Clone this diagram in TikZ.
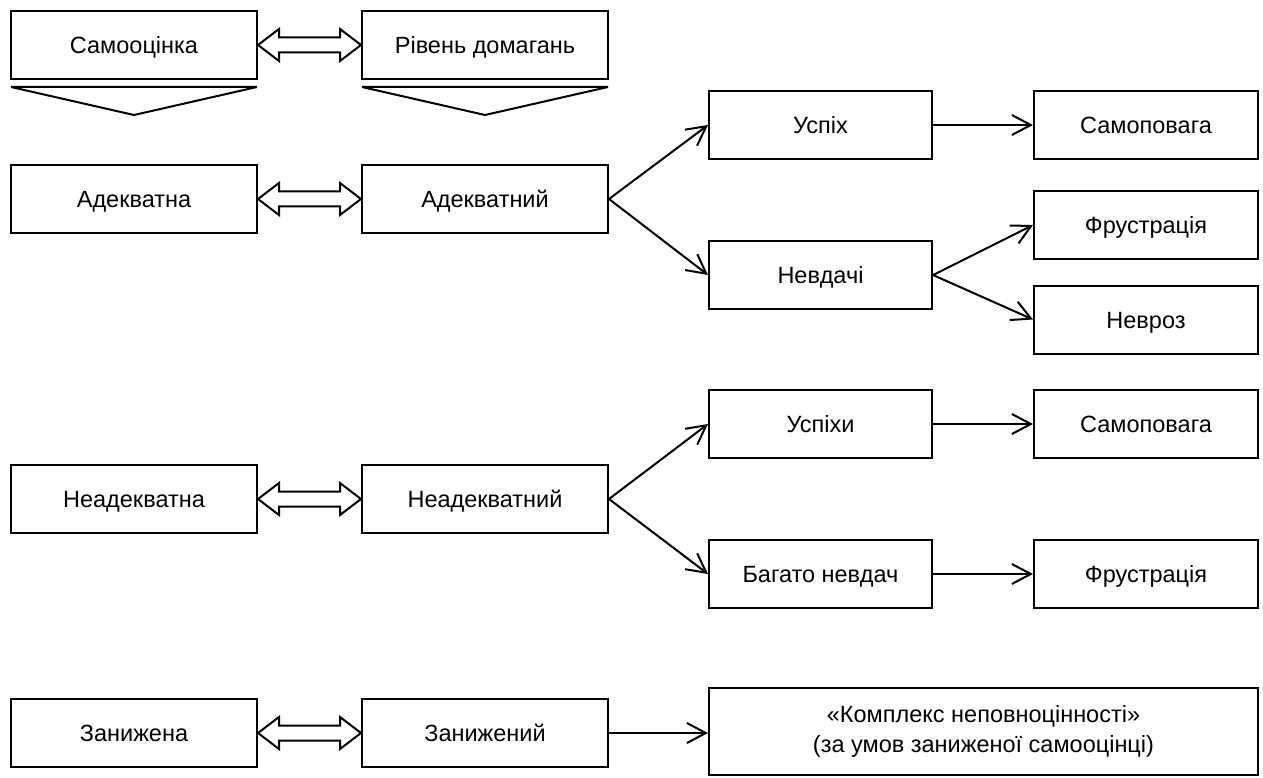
\documentclass[tikz,border=0pt]{standalone}
\usepackage{fontspec}
\setmainfont{Liberation Sans}
\usetikzlibrary{arrows.meta,calc}
\tikzset{
  box/.style={draw, line width=2pt, minimum height=68pt, inner sep=2pt, align=center,
              font=\fontsize{23.5}{30}\selectfont},
  onel/.style={box, text height=17pt, text depth=0pt},
  wbox/.style={onel, minimum width=246pt},
  mbox/.style={onel, minimum width=223pt},
  conn/.style={line width=2pt, -{Straight Barb[length=19pt,width=20pt,line width=2pt]}},
  dblar/.style={draw, line width=2pt, fill=white, line join=miter},
  tri/.style={draw, line width=2pt, line join=bevel},
}
\newcommand\dblarrowpath[2]{%
  \draw[dblar] (#1.east) -- ++(21,-16) -- ++(0,8.5) -- ++(61,0) -- ++(0,-8.5)
    -- (#2.west) -- ++(-21,16) -- ++(0,-8.5) -- ++(-61,0) -- ++(0,8.5) -- cycle;}
\newcommand\downtri[1]{%
  \draw[tri] ($(#1.south west)+(1,7)$) -- ($(#1.south east)+(-1,7)$)
    -- ($(#1.south)+(0,35)$) -- cycle;}
\begin{document}
\begin{tikzpicture}[x=1pt,y=-1pt]
\useasboundingbox (0,0) rectangle (1263,778);
% column 1 and 2
\node[wbox] (sam)  at (134,45)  {Самооцінка};
\node[wbox] (riv)  at (485,45)  {Рівень домагань};
\node[wbox] (ad1)  at (134,199) {Адекватна};
\node[wbox] (ad2)  at (485,199) {Адекватний};
\node[wbox] (nad1) at (134,499) {Неадекватна};
\node[wbox] (nad2) at (485,499) {Неадекватний};
\node[wbox] (zan1) at (134,733) {Занижена};
\node[wbox] (zan2) at (485,733) {Занижений};
% column 3
\node[mbox] (usp)  at (820.5,125) {Успіх};
\node[mbox] (nev)  at (820.5,275) {Невдачі};
\node[mbox] (usp2) at (820.5,424) {Успіхи};
\node[mbox] (bag)  at (820.5,574) {Багато невдач};
% column 4
\node[mbox, minimum width=224pt] (samp1) at (1146,125)   {Самоповага};
\node[mbox, minimum width=224pt] (fru1)  at (1146,225)   {Фрустрація};
\node[mbox, minimum width=224pt] (nevr)  at (1146,319.5) {Невроз};
\node[mbox, minimum width=224pt] (samp2) at (1146,424)   {Самоповага};
\node[mbox, minimum width=224pt] (fru2)  at (1146,574)   {Фрустрація};
% big box
\node[box, minimum width=549pt, minimum height=87pt] (kom) at (983.5,731.5)
  {«Комплекс неповноцінності»\\(за умов заниженої самооцінці)};
% double arrows
\dblarrowpath{sam}{riv}
\dblarrowpath{ad1}{ad2}
\dblarrowpath{nad1}{nad2}
\dblarrowpath{zan1}{zan2}
% triangles
\downtri{sam}
\downtri{riv}
% connectors
\draw[conn] (ad2.east) -- (usp.west);
\draw[conn] (ad2.east) -- (nev.west);
\draw[conn] (usp.east) -- (samp1.west);
\draw[conn] (nev.east) -- (fru1.west);
\draw[conn] (nev.east) -- (nevr.west);
\draw[conn] (nad2.east) -- (usp2.west);
\draw[conn] (nad2.east) -- (bag.west);
\draw[conn] (usp2.east) -- (samp2.west);
\draw[conn] (bag.east) -- (fru2.west);
\draw[conn] (zan2.east) -- (zan2.east -| kom.west);
\end{tikzpicture}
\end{document}
